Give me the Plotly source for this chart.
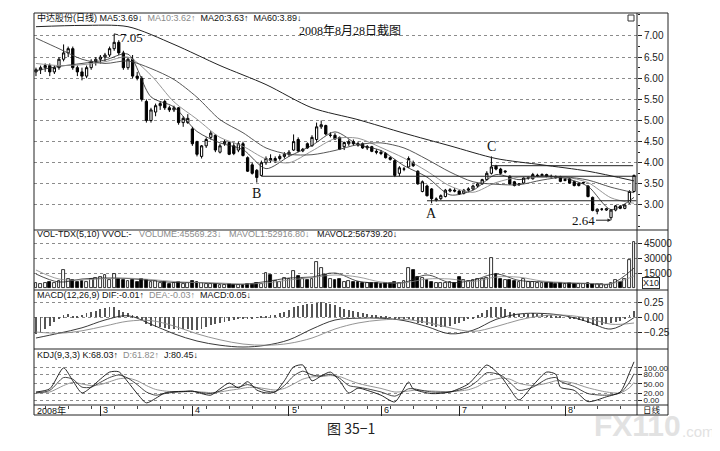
import plotly.graph_objects as go
from plotly.subplots import make_subplots

# 日线数据 (2008年2月 - 8月28日)
open_ = [6.15, 6.20, 6.25, 6.30, 6.15, 6.25, 6.45, 6.60, 6.70, 6.25, 6.15, 6.05, 6.25, 6.40,
         6.45, 6.50, 6.55, 6.70, 6.85, 6.60, 6.25, 6.45, 6.05, 6.00, 5.45, 5.00, 5.20, 5.35,
         5.45, 5.30, 5.25, 5.30, 4.95, 4.95, 4.80, 4.50, 4.15, 4.40, 4.60, 4.65, 4.25, 4.45,
         4.48, 4.40, 4.30, 4.45, 4.12, 3.95, 3.82, 3.70, 4.00, 4.10, 4.05, 4.10, 4.15, 4.20,
         4.30, 4.55, 4.28, 4.45, 4.40, 4.55, 4.85, 4.88, 4.65, 4.65, 4.60, 4.38, 4.45, 4.50,
         4.45, 4.45, 4.35, 4.38, 4.27, 4.25, 4.22, 4.12, 4.05, 3.75, 3.85, 3.90, 4.00, 3.80,
         3.32, 3.45, 3.38, 3.12, 3.15, 3.20, 3.33, 3.35, 3.33, 3.28, 3.35, 3.38, 3.45, 3.50,
         3.60, 3.75, 3.92, 3.85, 3.78, 3.68, 3.55, 3.48, 3.52, 3.64, 3.62, 3.70, 3.70, 3.72,
         3.68, 3.67, 3.67, 3.58, 3.62, 3.55, 3.46, 3.52, 3.45, 3.18, 2.85, 2.90, 2.88, 2.70,
         2.88, 2.97, 2.92, 3.05, 3.32]
high_ = [6.25, 6.30, 6.35, 6.35, 6.30, 6.50, 6.80, 6.75, 6.75, 6.30, 6.25, 6.30, 6.45, 6.50,
         6.55, 6.60, 6.75, 7.05, 6.90, 6.65, 6.50, 6.55, 6.15, 6.05, 5.50, 5.30, 5.40, 5.45,
         5.50, 5.35, 5.35, 5.32, 5.10, 5.15, 4.85, 4.52, 4.42, 4.60, 4.75, 4.68, 4.45, 4.55,
         4.50, 4.48, 4.50, 4.50, 4.15, 4.00, 3.85, 4.05, 4.15, 4.20, 4.15, 4.20, 4.25, 4.30,
         4.67, 4.60, 4.35, 4.48, 4.65, 4.95, 5.00, 4.90, 4.72, 4.70, 4.62, 4.50, 4.55, 4.55,
         4.50, 4.48, 4.42, 4.40, 4.32, 4.30, 4.25, 4.15, 4.08, 3.92, 3.90, 4.15, 4.05, 3.82,
         3.58, 3.48, 3.40, 3.18, 3.25, 3.38, 3.40, 3.40, 3.35, 3.38, 3.42, 3.48, 3.52, 3.62,
         3.80, 4.15, 3.95, 3.88, 3.82, 3.70, 3.57, 3.52, 3.66, 3.68, 3.76, 3.74, 3.75, 3.74,
         3.72, 3.70, 3.69, 3.63, 3.64, 3.57, 3.53, 3.55, 3.47, 3.20, 2.92, 2.93, 2.93, 2.90,
         3.00, 3.00, 3.02, 3.35, 3.72]
low_ = [6.05, 6.10, 6.15, 6.05, 6.10, 6.20, 6.40, 6.50, 6.20, 6.05, 5.95, 6.00, 6.20, 6.30,
        6.35, 6.40, 6.50, 6.65, 6.55, 6.20, 6.20, 6.00, 5.95, 5.45, 4.95, 4.95, 5.10, 5.25,
        5.25, 5.20, 5.20, 4.90, 4.85, 4.92, 4.40, 4.15, 4.10, 4.35, 4.55, 4.25, 4.22, 4.40,
        4.18, 4.18, 4.25, 4.15, 3.78, 3.72, 3.53, 3.68, 3.95, 4.00, 4.00, 4.05, 4.10, 4.15,
        4.28, 4.25, 4.25, 4.33, 4.38, 4.50, 4.80, 4.65, 4.60, 4.55, 4.30, 4.30, 4.40, 4.40,
        4.38, 4.33, 4.30, 4.25, 4.20, 4.18, 4.10, 4.05, 3.66, 3.68, 3.80, 3.88, 3.90, 3.48,
        3.30, 3.20, 3.04, 3.08, 3.12, 3.18, 3.30, 3.30, 3.24, 3.25, 3.30, 3.35, 3.42, 3.48,
        3.58, 3.72, 3.82, 3.72, 3.75, 3.48, 3.44, 3.45, 3.50, 3.60, 3.60, 3.66, 3.68, 3.65,
        3.64, 3.62, 3.54, 3.56, 3.50, 3.44, 3.44, 3.50, 3.18, 2.85, 2.78, 2.86, 2.86, 2.64,
        2.85, 2.90, 2.90, 3.03, 3.30]
close_ = [6.20, 6.25, 6.30, 6.15, 6.25, 6.45, 6.60, 6.70, 6.25, 6.15, 6.05, 6.25, 6.40, 6.45,
          6.50, 6.55, 6.70, 6.85, 6.60, 6.25, 6.45, 6.05, 6.00, 5.50, 5.00, 5.25, 5.35, 5.40,
          5.30, 5.25, 5.30, 4.95, 5.05, 5.05, 4.45, 4.20, 4.40, 4.55, 4.70, 4.30, 4.40, 4.50,
          4.20, 4.22, 4.45, 4.17, 3.80, 3.75, 3.65, 4.00, 4.10, 4.05, 4.10, 4.15, 4.20, 4.25,
          4.50, 4.28, 4.32, 4.35, 4.60, 4.85, 4.90, 4.68, 4.65, 4.56, 4.32, 4.48, 4.50, 4.45,
          4.42, 4.35, 4.38, 4.27, 4.25, 4.22, 4.12, 4.08, 3.70, 3.88, 3.85, 4.10, 3.93, 3.50,
          3.55, 3.22, 3.15, 3.14, 3.22, 3.35, 3.36, 3.33, 3.26, 3.35, 3.38, 3.45, 3.50, 3.60,
          3.75, 3.90, 3.85, 3.75, 3.80, 3.50, 3.46, 3.50, 3.64, 3.65, 3.72, 3.70, 3.72, 3.68,
          3.67, 3.65, 3.56, 3.60, 3.52, 3.46, 3.51, 3.53, 3.20, 2.87, 2.90, 2.90, 2.91, 2.88,
          2.98, 2.92, 3.00, 3.32, 3.70]
volume = [5000, 4500, 5000, 6000, 5000, 7000, 18000, 9000, 8000, 6000, 7000, 6500, 9000, 10000,
          11000, 13000, 8000, 14000, 9000, 8000, 7000, 8000, 6000, 9000, 8000, 6000, 7000, 5000,
          6000, 4000, 5000, 6000, 4000, 5000, 7000, 6000, 5000, 4500, 4000, 4500, 3500, 3500,
          4000, 3500, 3000, 3500, 4000, 4000, 5000, 4000, 15000, 13000, 7000, 6000, 10000, 9000,
          17000, 12000, 9000, 8000, 9000, 26000, 20000, 13000, 9000, 8000, 9000, 6000, 7000, 6000,
          6000, 5000, 5500, 5000, 5000, 4500, 5000, 5000, 6000, 5000, 7000, 20000, 18000, 11000,
          10000, 8000, 6000, 5000, 5000, 5000, 6000, 5000, 11000, 8000, 7000, 8000, 9000, 9000,
          10000, 30000, 14000, 9000, 8000, 8000, 7000, 6000, 9000, 6000, 6000, 5000, 5000, 5000,
          5000, 4500, 5000, 4500, 5000, 4000, 4500, 4000, 5000, 4500, 4000, 4000, 3500, 5000,
          8000, 6000, 9000, 28000, 46000]
macd_hist = [-0.28, -0.25, -0.20, -0.15, -0.08, -0.03, 0.03, 0.05, 0.02, 0.01,
             0.04, 0.07, 0.09, 0.10, 0.13, 0.15, 0.16, 0.17, 0.12, 0.08,
             0.06, 0.03, 0.02, -0.05, -0.12, -0.15, -0.16, -0.17, -0.19, -0.20,
             -0.20, -0.21, -0.20, -0.20, -0.22, -0.22, -0.20, -0.17, -0.14, -0.12,
             -0.10, -0.08, -0.06, -0.05, -0.03, -0.02, -0.03, -0.02, -0.01, 0.01,
             0.02, 0.03, 0.04, 0.06, 0.08, 0.12, 0.16, 0.18, 0.20, 0.21,
             0.22, 0.24, 0.25, 0.23, 0.22, 0.20, 0.17, 0.14, 0.12, 0.10,
             0.08, 0.06, 0.05, 0.04, 0.03, 0.02, 0.01, -0.01, -0.05, -0.04,
             -0.03, -0.02, -0.05, -0.10, -0.10, -0.13, -0.15, -0.17, -0.17, -0.16,
             -0.15, -0.12, -0.10, -0.07, -0.04, -0.02, 0.03, 0.07, 0.12, 0.16,
             0.17, 0.16, 0.14, 0.08, 0.06, 0.05, 0.05, 0.05, 0.06, 0.05,
             0.05, 0.04, 0.03, 0.02, 0.01, 0.00, -0.02, -0.04, -0.05, -0.06,
             -0.10, -0.14, -0.15, -0.14, -0.12, -0.10, -0.08, -0.06, -0.02, 0.04,
             0.10]

# 均线/指标线 (每5根取一点)
ma_idx = list(range(0, 131, 5))
ma5 = [6.18, 6.28, 6.35, 6.43, 6.57, 5.56, 5.32, 4.74, 4.47, 4.31, 3.86, 4.15, 4.41, 4.73,
       4.43, 4.29, 3.93, 3.66, 3.24, 3.35, 3.72, 3.60, 3.69, 3.63, 3.44, 2.89, 3.18]
ma10 = [6.35, 6.30, 6.32, 6.39, 6.50, 6.07, 5.44, 5.03, 4.60, 4.39, 4.09, 4.00, 4.28, 4.57,
        4.58, 4.36, 4.11, 3.80, 3.45, 3.30, 3.53, 3.66, 3.65, 3.66, 3.53, 3.17, 3.04]
ma20 = [6.95, 6.70, 6.45, 6.35, 6.41, 6.23, 5.97, 5.55, 5.02, 4.71, 4.35, 4.20, 4.19, 4.29,
        4.43, 4.47, 4.35, 4.08, 3.78, 3.55, 3.49, 3.48, 3.59, 3.66, 3.59, 3.42, 3.29]
ma60_idx = list(range(0, 131, 10))
ma60 = [7.22, 7.25, 7.22, 6.80, 6.30, 5.85, 5.30, 5.02, 4.70, 4.40, 4.10, 3.95, 3.80, 3.57]
mavol1 = [14000, 6000, 9000, 10000, 9500, 7500, 5500, 5500, 4300, 3700, 6500, 10000, 11000, 15000,
          6800, 5000, 5500, 13000, 5500, 7800, 14000, 7600, 6200, 4800, 4500, 4200, 20000]
mavol2 = [18000, 9000, 8000, 9500, 9800, 8500, 6500, 5500, 5000, 4000, 5000, 8000, 10500, 13000,
          11000, 6000, 5200, 9000, 9000, 6500, 11000, 10800, 7000, 5500, 4700, 4300, 12000]
dif = [-0.35, -0.27, -0.18, -0.05, 0.02, -0.12, -0.28, -0.40, -0.47, -0.50, -0.47, -0.38, -0.20,
       -0.05, -0.02, -0.02, -0.06, -0.16, -0.28, -0.22, -0.04, 0.05, 0.06, 0.02, -0.08, -0.20, -0.01]
dea = [-0.25, -0.27, -0.23, -0.15, -0.07, -0.06, -0.15, -0.28, -0.38, -0.45, -0.47, -0.44, -0.35,
       -0.20, -0.10, -0.05, -0.04, -0.09, -0.18, -0.24, -0.16, -0.05, 0.02, 0.03, -0.02, -0.12, -0.10]

kdj_idx = [0, 3, 6, 8, 10, 12, 14, 16, 18, 20, 22, 24, 26, 28, 30, 32, 34, 36, 38, 40, 42, 44, 46,
           48, 50, 52, 54, 56, 58, 60, 62, 64, 66, 68, 70, 72, 75, 78, 81, 82, 86, 90, 94, 96, 98,
           101, 103, 105, 108, 111, 113, 114, 117, 120, 124, 127, 129, 130]
k_line = [22, 30, 70, 65, 40, 40, 55, 70, 78, 68, 48, 25, 15, 20, 24, 26, 27, 23, 20, 28,
          40, 40, 48, 38, 28, 26, 45, 75, 90, 78, 75, 80, 68, 45, 40, 35, 25, 12, 35, 35,
          25, 25, 40, 60, 85, 78, 55, 30, 40, 65, 70, 58, 42, 20, 15, 22, 55, 82]
d_line = [22, 25, 45, 55, 50, 45, 48, 57, 66, 68, 60, 45, 33, 28, 26, 26, 26, 25, 23, 25,
          30, 34, 39, 39, 35, 31, 36, 50, 65, 72, 73, 76, 73, 62, 52, 45, 36, 25, 28, 30,
          28, 26, 32, 42, 58, 68, 65, 52, 45, 52, 60, 60, 52, 38, 25, 22, 38, 55]
j_line = [25, 35, 100, 60, 22, 40, 65, 87, 88, 56, 20, -9, 5, 22, 26, 27, 28, 20, 15, 35,
          53, 38, 57, 31, 22, 25, 60, 103, 109, 60, 75, 87, 60, 22, 37, 30, 15, -6, 56, 35,
          20, 25, 50, 80, 109, 75, 35, 0, 45, 87, 80, 40, 30, -5, 10, 25, 85, 119]

# 月份起点与标签
month_idx = [14, 34, 55, 75, 92, 115]
month_text = ["3", "4", "5", "6", "7", "8"]

# 水平支撑/压力线: (起点, 终点, 价位)
levels = [(49, 130.5, 3.68), (85, 130.5, 3.10), (99, 129.8, 3.93)]

idx = list(range(len(close_)))
up = [c >= o for o, c in zip(open_, close_)]

fig = make_subplots(rows=4, cols=1, shared_xaxes=True, vertical_spacing=0,
                    row_heights=[217, 60, 59, 56])

fig.add_trace(go.Candlestick(
    x=idx, open=open_, high=high_, low=low_, close=close_,
    increasing=dict(line=dict(color="black", width=1), fillcolor="white"),
    decreasing=dict(line=dict(color="black", width=1), fillcolor="black"),
    whiskerwidth=0, showlegend=False), row=1, col=1)

for xs, ys, col, w in [(ma_idx, ma5, "#222", 0.8), (ma_idx, ma10, "#8a8a8a", 0.9),
                       (ma_idx, ma20, "#444", 0.9), (ma60_idx, ma60, "#222", 1.0)]:
    fig.add_trace(go.Scatter(x=xs, y=ys, mode="lines", line=dict(color=col, width=w, shape="spline", smoothing=0.8),
                             showlegend=False, hoverinfo="skip"), row=1, col=1)

for x0, x1, lv in levels:
    fig.add_shape(type="line", x0=x0, x1=x1, y0=lv, y1=lv, xref="x", yref="y",
                  line=dict(color="#222", width=1))

# 成交量
fig.add_trace(go.Bar(x=idx, y=volume, width=0.62,
                     marker=dict(color=["white" if u else "black" for u in up],
                                 line=dict(color="black", width=0.8)),
                     showlegend=False), row=2, col=1)
fig.add_trace(go.Scatter(x=ma_idx, y=mavol1, mode="lines", line=dict(color="#222", width=0.8, shape="spline"),
                         showlegend=False), row=2, col=1)
fig.add_trace(go.Scatter(x=ma_idx, y=mavol2, mode="lines", line=dict(color="#888", width=0.8, shape="spline"),
                         showlegend=False), row=2, col=1)

# MACD
fig.add_trace(go.Bar(x=idx, y=macd_hist, width=0.18, marker=dict(color="#555", line=dict(width=0)),
                     showlegend=False), row=3, col=1)
fig.add_trace(go.Scatter(x=ma_idx, y=dif, mode="lines", line=dict(color="#222", width=0.9, shape="spline"),
                         showlegend=False), row=3, col=1)
fig.add_trace(go.Scatter(x=ma_idx, y=dea, mode="lines", line=dict(color="#888", width=0.9, shape="spline"),
                         showlegend=False), row=3, col=1)

# KDJ
for ys, col, w in [(d_line, "#8a8a8a", 0.9), (k_line, "#333", 0.9), (j_line, "#111", 0.9)]:
    fig.add_trace(go.Scatter(x=kdj_idx, y=ys, mode="lines", line=dict(color=col, width=w, shape="spline", smoothing=0.7),
                             showlegend=False), row=4, col=1)

axis_font = dict(family="Liberation Sans, Arial", size=10, color="#222")
common_y = dict(side="right", ticks="outside", ticklen=4, tickcolor="#222", tickfont=axis_font,
                showgrid=True, griddash="dot", gridcolor="#8c8c8c", gridwidth=1,
                zeroline=False, showline=False, fixedrange=True, automargin=False)
fig.update_yaxes(**common_y)
fig.update_yaxes(range=[2.408, 7.544], tickvals=[3.0, 3.5, 4.0, 4.5, 5.0, 5.5, 6.0, 6.5, 7.0],
                 tickformat=".2f", minor=dict(dtick=0.25, tick0=0, ticklen=2, ticks="outside", showgrid=False),
                 row=1, col=1)
fig.update_yaxes(range=[-2000, 58000], tickvals=[15000, 30000, 45000], tickformat="d", row=2, col=1)
fig.update_yaxes(range=[-0.533, 0.45], tickvals=[-0.25, 0, 0.25], tickformat=".2f", row=3, col=1)
fig.update_yaxes(range=[-15.6, 159], tickvals=[0, 20, 50, 80, 100], tickformat=".2f",
                 tickfont=dict(family="Liberation Sans, Arial", size=8, color="#222"), row=4, col=1)

fig.update_xaxes(range=[-0.43, 130.65], showgrid=False, zeroline=False, showline=False,
                 showticklabels=False, ticks="", fixedrange=True, rangeslider_visible=False,
                 automargin=False)
fig.update_xaxes(tickvals=month_idx, ticks="outside", ticklen=10, tickcolor="#222",
                 minor=dict(dtick=5, tick0=2, ticks="outside", ticklen=3, tickcolor="#444"),
                 row=4, col=1)


# 页面像素 -> paper 坐标 (绘图区: x 34..637, y 13..405)
def px(x):
    return (x - 34) / 603


def py(y):
    return (405 - y) / 392


border = dict(color="#222", width=1)
for yy in [13, 230, 290, 349, 405, 415]:
    fig.add_shape(type="line", xref="paper", yref="paper", x0=px(34), x1=px(668), y0=py(yy), y1=py(yy), line=border)
for xx in [34, 637, 668]:
    fig.add_shape(type="line", xref="paper", yref="paper", x0=px(xx), x1=px(xx), y0=py(13), y1=py(415), line=border)
fig.add_shape(type="rect", xref="paper", yref="paper", x0=px(628), x1=px(634), y0=py(21), y1=py(15),
              line=dict(color="#333", width=1))


def note(text, x, y, font, xanchor="center", **kw):
    fig.add_annotation(text=text, xref="paper", yref="paper", x=px(x), y=py(y), xanchor=xanchor,
                       yanchor="middle", showarrow=False, font=font, **kw)


head_font = dict(family="Liberation Sans, Noto Sans CJK SC", size=9, color="#111")
grey = '<span style="color:#8a8a8a">%s</span>'
headers = [
    (17, "中达股份(日线) MA5:3.69↓  " + grey % "MA10:3.62↑" + "  MA20:3.63↑  MA60:3.89↓"),
    (234, "VOL-TDX(5,10) VVOL:-   " + grey % "VOLUME:45569.23↓" + "   " + grey % "MAVOL1:52916.80↓"
     + "   MAVOL2:56739.20↓"),
    (295, "MACD(12,26,9) DIF:-0.01↑  " + grey % "DEA:-0.03↑" + "  MACD:0.05↓"),
    (355, "KDJ(9,3,3) K:68.03↑  " + grey % "D:61.82↑" + "  J:80.45↓"),
]
for yy, txt in headers:
    note(txt, 35, yy, head_font, xanchor="left")

serif = dict(family="Liberation Serif, Noto Sans CJK SC", size=14, color="#111")
note("2008年8月28日截图", 350, 31, dict(family="Liberation Serif, Noto Sans CJK SC", size=12, color="#111"))
fig.add_annotation(text="7.05", x=17, y=high_[17], xref="x", yref="y", ax=17, ay=4, showarrow=True,
                   arrowhead=0, arrowwidth=1, arrowcolor="#222", font=dict(serif, size=13))
fig.add_annotation(text="B", x=48, y=low_[48], xref="x", yref="y", yanchor="top", xanchor="center",
                   yshift=-1, showarrow=False, font=serif)
fig.add_annotation(text="A", x=86, y=low_[86], xref="x", yref="y", yanchor="top", xanchor="center",
                   yshift=-1, showarrow=False, font=serif)
fig.add_annotation(text="C", x=99, y=high_[99], xref="x", yref="y", yanchor="bottom", xanchor="center",
                   yshift=0, showarrow=False, font=serif)
fig.add_annotation(text="2.64", x=125, y=low_[125], xref="x", yref="y", ax=-28, ay=0, showarrow=True,
                   arrowhead=2, arrowsize=0.7, arrowwidth=1, arrowcolor="#222", font=dict(serif, size=13))

note("X10", 651, 283, dict(family="Liberation Sans", size=9, color="#222"),
     bordercolor="#333", borderwidth=1, borderpad=0)

x_font = dict(family="Liberation Sans, Noto Sans CJK SC", size=9, color="#111")
fig.add_annotation(text="2008年", x=-0.3, y=py(410), xref="x", yref="paper", xanchor="left",
                   yanchor="middle", showarrow=False, font=x_font)
for mi, mt in zip(month_idx, month_text):
    fig.add_annotation(text=mt, x=mi, y=py(410), xref="x", yref="paper", xanchor="left", yanchor="middle",
                       xshift=1, showarrow=False, font=x_font)
note("日线", 652, 410.5, dict(x_font, size=8.5))

note("图 35−1", 351, 428, dict(family="Noto Sans CJK SC", size=14, color="#222"))
note("<b>FX110</b>", 637, 425, dict(family="Liberation Sans", size=30, color="#e2e2e2"))
note(".com", 698, 431, dict(family="Liberation Sans", size=15, color="#e2e2e2"))

# 页面 body 默认 8px 边距: 画布缩小为 712x435, 使整页恰为 720x451
fig.update_layout(width=712, height=435, margin=dict(l=26, r=83, t=5, b=38),
                  paper_bgcolor="white", plot_bgcolor="white", showlegend=False, bargap=0,
                  hovermode=False)

fig.write_html("out.html")
